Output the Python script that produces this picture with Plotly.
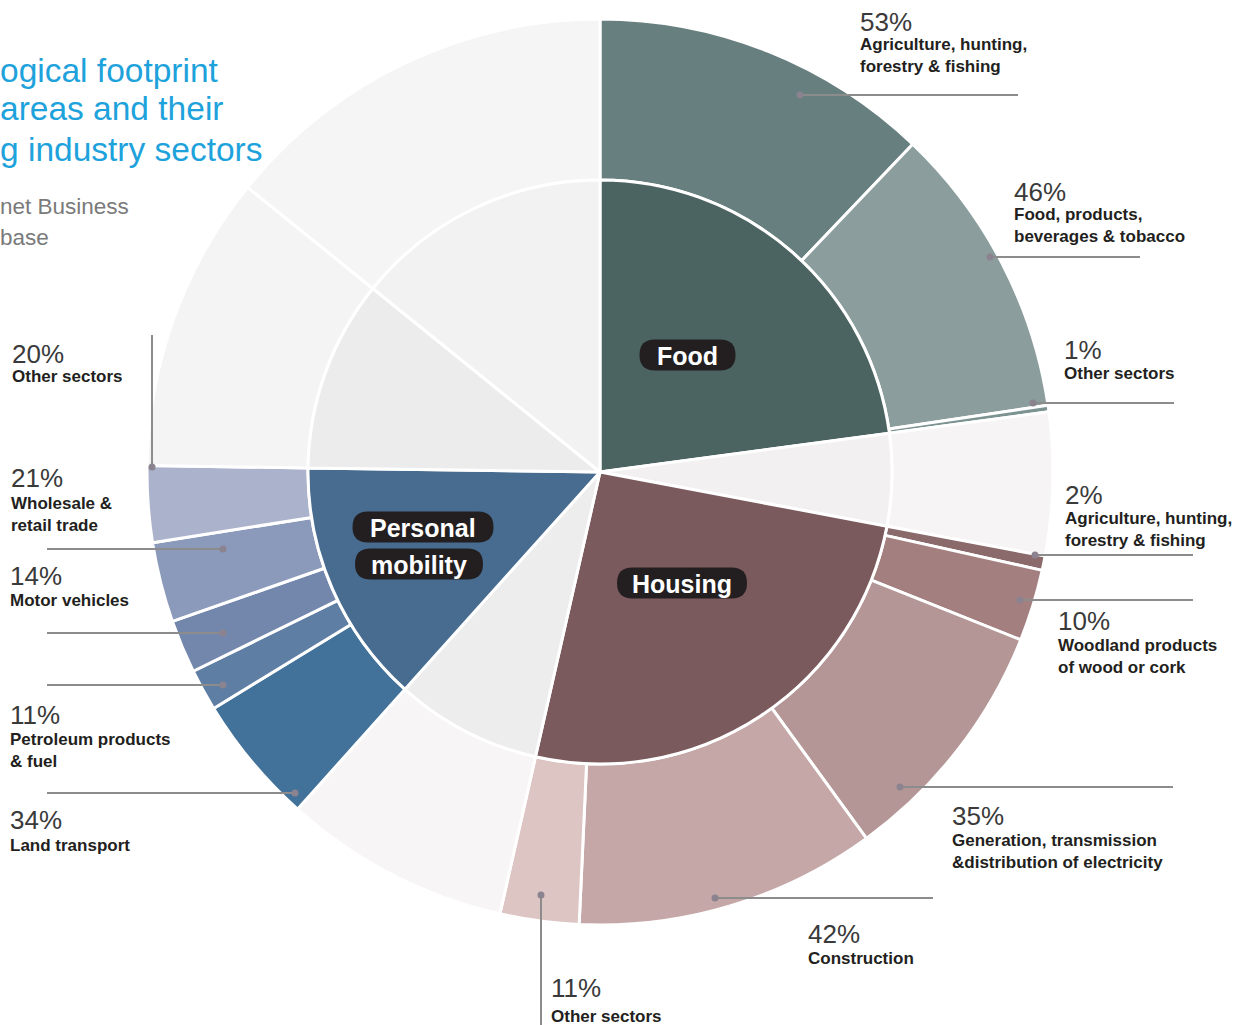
import plotly.graph_objects as go

W, H = 1248, 1025

# ---------------- data ----------------
# Inner ring: consumption areas (share of total footprint, %), clockwise from 12 o'clock
areas = ["Food", "Other area A", "Housing", "Other area B", "Personal mobility", "Other area C", "Other area D"]
area_share = [22.9, 5.1, 25.6, 8.1, 13.6, 10.6, 14.2]

# Outer ring: industry sectors within each highlighted area (% of the area)
food_sectors = ["Agriculture, hunting, forestry & fishing", "Food, products, beverages & tobacco", "Other sectors"]
food_pct = [53, 46, 1]

housing_sectors = ["Agriculture, hunting, forestry & fishing", "Woodland products of wood or cork",
                   "Generation, transmission & distribution of electricity", "Construction", "Other sectors"]
housing_pct = [2, 10, 35, 42, 11]

mobility_sectors = ["Land transport", "Petroleum products & fuel", "Motor vehicles",
                    "Wholesale & retail trade", "Other sectors"]
mobility_pct = [34, 11, 14, 21, 20]

# unlabelled grey areas in the outer ring (split of each grey area, %)
grey_split = {"Other area A": [100], "Other area B": [100], "Other area C": [58, 42], "Other area D": [100]}

# ---------------- styles ----------------
area_colors = ["#4b6361", "#f2f0f0", "#7b5a5d", "#eeeded", "#476c8f", "#ececec", "#f2f2f2"]
food_colors = ["#677f7e", "#8b9d9d", "#7d9392"]
housing_colors = ["#8a6a6b", "#a37f7f", "#b49696", "#c5a7a7", "#dcc5c3"]
mobility_colors = ["#42729a", "#5f7ea4", "#7387ad", "#8b99bb", "#abb2cc"]
grey_colors = {"Other area A": ["#f6f4f4"], "Other area B": ["#f7f5f5"],
               "Other area C": ["#f4f4f4", "#f5f5f5"], "Other area D": ["#f5f5f5"]}

sub = {"Food": (food_sectors, food_pct, food_colors),
       "Housing": (housing_sectors, housing_pct, housing_colors),
       "Personal mobility": (mobility_sectors, mobility_pct, mobility_colors)}

outer_labels, outer_values, outer_colors = [], [], []
for a, s in zip(areas, area_share):
    if a in sub:
        names, pcts, cols = sub[a]
    else:
        pcts = grey_split[a]
        names = [a] * len(pcts)
        cols = grey_colors[a]
    for n, p, c in zip(names, pcts, cols):
        outer_labels.append(a + " – " + n)
        outer_values.append(s * p / 100.0)
        outer_colors.append(c)

# geometry (pixels)
CX, CY = 600, 472
R_OUT, R_IN = 453, 292


def X(px):
    return px / W


def Y(py):
    return 1 - py / H


fig = go.Figure()
fig.add_trace(go.Pie(
    labels=outer_labels, values=outer_values, sort=False, direction="clockwise", rotation=0,
    hole=R_IN / R_OUT, textinfo="none", textposition="none", showlegend=False,
    marker=dict(colors=outer_colors, line=dict(color="white", width=3)),
    domain=dict(x=[X(CX - R_OUT), X(CX + R_OUT)], y=[Y(CY + R_OUT), Y(CY - R_OUT)]),
))
fig.add_trace(go.Pie(
    labels=areas, values=area_share, sort=False, direction="clockwise", rotation=0,
    textinfo="none", textposition="none", showlegend=False,
    marker=dict(colors=area_colors, line=dict(color="white", width=3)),
    domain=dict(x=[X(CX - R_IN), X(CX + R_IN)], y=[Y(CY + R_IN), Y(CY - R_IN)]),
))

shapes = []
annotations = []

# ---- leader lines (px) ----
LINE_COL = "#8c8c8c"
lines = [
    ((800, 95), (1018, 95)),
    ((990, 257), (1140, 257)),
    ((1033, 403), (1174, 403)),
    ((1035, 555), (1193, 555)),
    ((1020, 600), (1193, 600)),
    ((900, 787), (1173, 787)),
    ((715, 898), (933, 898)),
    ((541, 895), (541, 1025)),
    ((152, 467), (152, 335)),
    ((223, 549), (47, 549)),
    ((223, 633), (47, 633)),
    ((223, 685), (47, 685)),
    ((295, 793), (47, 793)),
]
for (x0, y0), (x1, y1) in lines:
    shapes.append(dict(type="line", xref="paper", yref="paper", x0=X(x0), y0=Y(y0), x1=X(x1), y1=Y(y1),
                       line=dict(color=LINE_COL, width=2)))
    shapes.append(dict(type="circle", xref="paper", yref="paper", x0=X(x0 - 3.5), x1=X(x0 + 3.5),
                       y0=Y(y0 + 3.5), y1=Y(y0 - 3.5), fillcolor="#8b8390", line=dict(width=0)))

# ---- outer labels ----
PCT_FONT = dict(family="Liberation Sans, Arial", size=26, color="#3a3a3a")
NAME_FONT = dict(family="Liberation Sans, Arial", size=17, color="#231f20")
labels = [
    # pct, name, x, pct mid y, name mid y
    ("53%", "Agriculture, hunting,<br>forestry & fishing", 860, 21.5, 55),
    ("46%", "Food, products,<br>beverages & tobacco", 1014, 192.5, 226),
    ("1%", "Other sectors", 1064, 350, 373),
    ("2%", "Agriculture, hunting,<br>forestry & fishing", 1065, 495, 529),
    ("10%", "Woodland products<br>of wood or cork", 1058, 621, 656),
    ("35%", "Generation, transmission<br>&distribution of electricity", 952, 815.5, 851),
    ("42%", "Construction", 808, 933.5, 958),
    ("11%", "Other sectors", 551, 988, 1016),
    ("20%", "Other sectors", 12, 353.5, 376.5),
    ("21%", "Wholesale &<br>retail trade", 11, 478.5, 514),
    ("14%", "Motor vehicles", 10, 575.5, 600),
    ("11%", "Petroleum products<br>& fuel", 10, 715, 750),
    ("34%", "Land transport", 10, 820, 845),
]
for pct, name, x, yp, yn in labels:
    annotations.append(dict(xref="paper", yref="paper", x=X(x), y=Y(yp), xanchor="left", yanchor="middle",
                            text=pct, showarrow=False, font=PCT_FONT, borderpad=0, borderwidth=0))
    annotations.append(dict(xref="paper", yref="paper", x=X(x), y=Y(yn), xanchor="left", yanchor="middle",
                            text="<b>" + name + "</b>", showarrow=False, font=NAME_FONT, align="left",
                            borderpad=0, borderwidth=0))

# ---- pills for area names ----
def pill_path(cx, cy, w, h):
    r = h / 2.0
    x0, x1 = cx - w / 2.0, cx + w / 2.0
    y0, y1 = cy - h / 2.0, cy + h / 2.0
    pts = [
        ("M", [(x0 + r, y0)]),
        ("L", [(x1 - r, y0)]),
        ("Q", [(x1, y0), (x1, cy)]),
        ("Q", [(x1, y1), (x1 - r, y1)]),
        ("L", [(x0 + r, y1)]),
        ("Q", [(x0, y1), (x0, cy)]),
        ("Q", [(x0, y0), (x0 + r, y0)]),
    ]
    s = ""
    for cmd, ps in pts:
        s += cmd + " " + " ".join("%.5f,%.5f" % (X(px), Y(py)) for px, py in ps) + " "
    return s + "Z"

pills = [("Food", 687.5, 355, 96, 31), ("Personal", 423, 527, 141, 31),
         ("mobility", 419, 564, 128, 31), ("Housing", 682, 583, 130, 31)]
for txt, cx, cy, w, h in pills:
    shapes.append(dict(type="path", xref="paper", yref="paper", path=pill_path(cx, cy, w, h),
                       fillcolor="#231f20", line=dict(width=0)))
    annotations.append(dict(xref="paper", yref="paper", x=X(cx), y=Y(cy + 1), xanchor="center", yanchor="middle",
                            text="<b>" + txt + "</b>", showarrow=False,
                            font=dict(family="Liberation Sans, Arial", size=25, color="white")))

# ---- title fragments (cropped in the original) ----
TITLE_FONT = dict(family="Liberation Sans, Arial", size=33.5, color="#1ea2dc")
for txt, ym in [("ogical footprint", 70), ("areas and their", 109), ("g industry sectors", 149)]:
    annotations.append(dict(xref="paper", yref="paper", x=0, y=Y(ym), xanchor="left", yanchor="middle",
                            text=txt, showarrow=False, font=TITLE_FONT, borderpad=0, borderwidth=0))
SRC_FONT = dict(family="Liberation Sans, Arial", size=22.5, color="#7a7a7a")
for txt, ym in [("net Business", 207), ("base", 238)]:
    annotations.append(dict(xref="paper", yref="paper", x=0, y=Y(ym), xanchor="left", yanchor="middle",
                            text=txt, showarrow=False, font=SRC_FONT, borderpad=0, borderwidth=0))

fig.update_layout(
    width=W, height=H, margin=dict(l=0, r=0, t=0, b=0),
    paper_bgcolor="white", plot_bgcolor="white",
    shapes=shapes, annotations=annotations, showlegend=False,
)
fig.write_html("out.html")
